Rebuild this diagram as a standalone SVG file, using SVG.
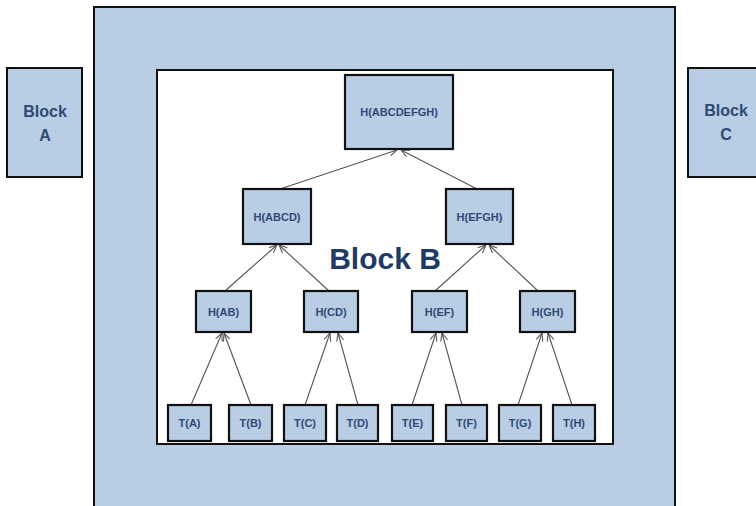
<svg xmlns="http://www.w3.org/2000/svg" width="756" height="506" viewBox="0 0 756 506">
<style>
.blk{fill:#B9CDE5;stroke:#111;stroke-width:2}
.inner{fill:#fff;stroke:#111;stroke-width:2}
.box{fill:#B9CDE5;stroke:#111;stroke-width:2.2}
.lbl{font-family:"Liberation Sans",Arial,sans-serif;font-weight:bold;font-size:11px;fill:#2E4A74;text-anchor:middle;dominant-baseline:central}
.big{font-family:"Liberation Sans",Arial,sans-serif;font-weight:bold;font-size:16px;fill:#2E4A74;text-anchor:middle}
.title{font-family:"Liberation Sans",Arial,sans-serif;font-weight:bold;font-size:30px;fill:#1F3B64;text-anchor:middle}
.con{stroke:#555;stroke-width:1.1;fill:none;marker-end:url(#arr)}
</style>
<defs>
<marker id="arr" viewBox="0 0 8 8" refX="8" refY="4" markerWidth="8" markerHeight="8" markerUnits="userSpaceOnUse" orient="auto">
<path d="M0,0.5 L8,4 L0,7.5" fill="none" stroke="#555" stroke-width="1.1"/>
</marker>
</defs>
<g id="blockA">
<rect class="blk" x="7" y="68" width="75" height="109"/>
<text class="big" x="45" y="117">Block</text>
<text class="big" x="45" y="141">A</text>
</g>
<g id="blockC">
<rect class="blk" x="688" y="68" width="80" height="109"/>
<text class="big" x="726" y="116">Block</text>
<text class="big" x="726" y="140">C</text>
</g>
<g id="blockB">
<rect class="blk" x="94" y="7" width="581" height="520"/>
<rect class="inner" x="157" y="70" width="456" height="374"/>
<text class="title" x="385" y="269">Block B</text>
</g>
<g id="connectors">
<line class="con" x1="191" y1="405" x2="222" y2="333"/>
<line class="con" x1="251" y1="405" x2="224" y2="333"/>
<line class="con" x1="305" y1="405" x2="330" y2="333"/>
<line class="con" x1="358" y1="405" x2="338" y2="333"/>
<line class="con" x1="412" y1="405" x2="436" y2="333"/>
<line class="con" x1="462" y1="405" x2="442" y2="333"/>
<line class="con" x1="518" y1="405" x2="542" y2="333"/>
<line class="con" x1="572" y1="405" x2="548" y2="333"/>
<line class="con" x1="225" y1="291" x2="277" y2="245"/>
<line class="con" x1="329" y1="291" x2="279" y2="245"/>
<line class="con" x1="435" y1="291" x2="486" y2="245"/>
<line class="con" x1="538" y1="291" x2="489" y2="245"/>
<line class="con" x1="280" y1="189" x2="397" y2="150"/>
<line class="con" x1="477" y1="189" x2="401" y2="150"/>
</g>
<g id="hABCDEFGH"><rect class="box" x="345" y="75" width="108" height="74"/><text class="lbl" x="399" y="112">H(ABCDEFGH)</text></g>
<g id="hABCD"><rect class="box" x="243" y="189" width="68" height="55"/><text class="lbl" x="277" y="216.5">H(ABCD)</text></g>
<g id="hEFGH"><rect class="box" x="446" y="189" width="67" height="55"/><text class="lbl" x="479.5" y="216.5">H(EFGH)</text></g>
<g id="hAB"><rect class="box" x="196" y="291" width="55" height="41"/><text class="lbl" x="223.5" y="311.5">H(AB)</text></g>
<g id="hCD"><rect class="box" x="304" y="291" width="54" height="41"/><text class="lbl" x="331" y="311.5">H(CD)</text></g>
<g id="hEF"><rect class="box" x="412" y="291" width="55" height="41"/><text class="lbl" x="439.5" y="311.5">H(EF)</text></g>
<g id="hGH"><rect class="box" x="520" y="291" width="55" height="41"/><text class="lbl" x="547.5" y="311.5">H(GH)</text></g>
<g id="tA"><rect class="box" x="168" y="405" width="43" height="36"/><text class="lbl" x="189.5" y="423">T(A)</text></g>
<g id="tB"><rect class="box" x="229" y="405" width="43" height="36"/><text class="lbl" x="250.5" y="423">T(B)</text></g>
<g id="tC"><rect class="box" x="284" y="405" width="42" height="36"/><text class="lbl" x="305" y="423">T(C)</text></g>
<g id="tD"><rect class="box" x="337" y="405" width="41" height="36"/><text class="lbl" x="357.5" y="423">T(D)</text></g>
<g id="tE"><rect class="box" x="392" y="405" width="41" height="36"/><text class="lbl" x="412.5" y="423">T(E)</text></g>
<g id="tF"><rect class="box" x="446" y="405" width="41" height="36"/><text class="lbl" x="466.5" y="423">T(F)</text></g>
<g id="tG"><rect class="box" x="499" y="405" width="42" height="36"/><text class="lbl" x="520" y="423">T(G)</text></g>
<g id="tH"><rect class="box" x="553" y="405" width="42" height="36"/><text class="lbl" x="574" y="423">T(H)</text></g>
</svg>
